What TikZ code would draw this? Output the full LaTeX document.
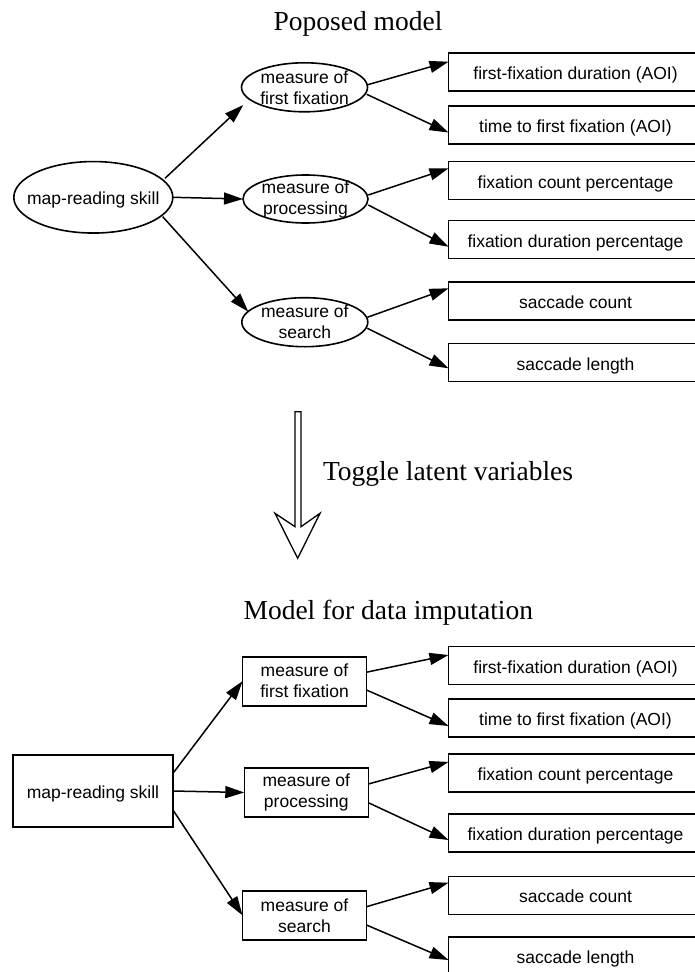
\documentclass[tikz,border=0pt]{standalone}
\usepackage{fontspec}
\setmainfont{Liberation Serif}
\newfontfamily\arialf{Liberation Sans}
\usetikzlibrary{arrows.meta,calc,shapes.geometric}
\begin{document}
\begin{tikzpicture}[x=1pt,y=-1pt,
  every node/.style={inner sep=0pt, outer sep=0pt},
  lbl/.style={font=\arialf\fontsize{17.5}{21}\selectfont, align=center},
  one/.style={text height=15pt, text depth=0pt},
  latent/.style={lbl, draw, line width=1.6pt, ellipse, minimum width=126pt, minimum height=49pt, inner xsep=-2pt, inner ysep=-3pt},
  mrect/.style={lbl, draw, line width=1.6pt, rectangle, minimum width=124pt, minimum height=49pt},
  obs/.style={lbl, one, draw, line width=1.6pt, minimum width=254pt, minimum height=38pt},
  conn/.style={line width=1.5pt, -{Triangle[length=19pt,width=12pt]}},
  ttl/.style={font=\fontsize{27.5}{32}\selectfont, anchor=base}
]
\useasboundingbox (0,0) rectangle (694,972);

% titles
\node[ttl] (t1) at (358,30.5) {Poposed model};
\node[ttl] (t2) at (388.3,619) {Model for data imputation};
\node[ttl, anchor=base west] (tg) at (323,480) {Toggle latent variables};

% top model
\node[latent, one, minimum width=159pt, minimum height=71.5pt, inner xsep=-20pt, inner ysep=0pt] (map) at (93.3,197.3) {map-reading skill};
\node[latent] (e1) at (304.5,87.3) {measure of\\first fixation};
\node[latent, minimum width=125pt, minimum height=48pt] (e2) at (305.5,199) {measure of\\processing};
\node[latent] (e3) at (304.8,322.2) {measure of\\search};

\node[obs] (b1) at (575.5,72) {first-fixation duration (AOI)};
\node[obs] (b2) at (575.5,124.7) {time to first fixation (AOI)};
\node[obs] (b3) at (575.5,180.5) {fixation count percentage};
\node[obs] (b4) at (575.5,239.5) {fixation duration percentage};
\node[obs] (b5) at (575.5,301) {saccade count};
\node[obs] (b6) at (575.5,362.5) {saccade length};

\draw[conn] ($(map.center)+(71.7,-19)$) -- ($(e1.center)+(-61.2,17.7)$);
\draw[conn] (map.east) -- (e2.west);
\draw[conn] ($(map.center)+(69.4,19.4)$) -- ($(e3.center)+(-56.5,-10.5)$);
\draw[conn] ($(e1.center)+(62.2,-2.3)$) -- ($(b1.west)+(0,-10.3)$);
\draw[conn] ($(e1.center)+(62.2,7)$) -- ($(b2.west)+(0,7.8)$);
\draw[conn] ($(e2.center)+(62.8,-4)$) -- ($(b3.west)+(0,-12.2)$);
\draw[conn] ($(e2.center)+(62.8,6)$) -- ($(b4.west)+(0,7.2)$);
\draw[conn] ($(e3.center)+(62.5,-4.9)$) -- ($(b5.west)+(0,-12.7)$);
\draw[conn] ($(e3.center)+(62.5,6.1)$) -- ($(b6.west)+(0,5.8)$);

% hollow arrow
\draw[line width=1.3pt, line join=miter] (295,411.7) -- (301,411.7) -- (301,526.7) -- (320,513.3) -- (297.7,558.3) -- (275,513.3) -- (295,526.7) -- cycle;

% bottom model
\node[mrect, one, minimum width=160pt, minimum height=72pt] (mapR) at (93,791) {map-reading skill};
\node[mrect] (ff) at (304.5,681.2) {measure of\\first fixation};
\node[mrect] (proc) at (306.3,792.5) {measure of\\processing};
\node[mrect] (sr) at (304.5,915.3) {measure of\\search};

\node[obs] (c1) at (575.5,665.5) {first-fixation duration (AOI)};
\node[obs] (c2) at (575.5,718) {time to first fixation (AOI)};
\node[obs] (c3) at (575.5,773.2) {fixation count percentage};
\node[obs] (c4) at (575.5,833) {fixation duration percentage};
\node[obs] (c5) at (575.5,895.3) {saccade count};
\node[obs] (c6) at (575.5,956) {saccade length};

\draw[conn] ($(mapR.east)+(0,-17.7)$) -- (ff.west);
\draw[conn] (mapR.east) -- (proc.west);
\draw[conn] ($(mapR.east)+(0,19)$) -- (sr.west);
\draw[conn] ($(ff.east)+(0,-9)$) -- ($(c1.west)+(0,-10.5)$);
\draw[conn] ($(ff.east)+(0,8.8)$) -- ($(c2.west)+(0,8)$);
\draw[conn] ($(proc.east)+(0,-8.5)$) -- ($(c3.west)+(0,-11.3)$);
\draw[conn] ($(proc.east)+(0,10.2)$) -- ($(c4.west)+(0,7)$);
\draw[conn] ($(sr.east)+(0,-8.6)$) -- ($(c5.west)+(0,-12.6)$);
\draw[conn] ($(sr.east)+(0,9.7)$) -- ($(c6.west)+(0,4)$);
\end{tikzpicture}
\end{document}
